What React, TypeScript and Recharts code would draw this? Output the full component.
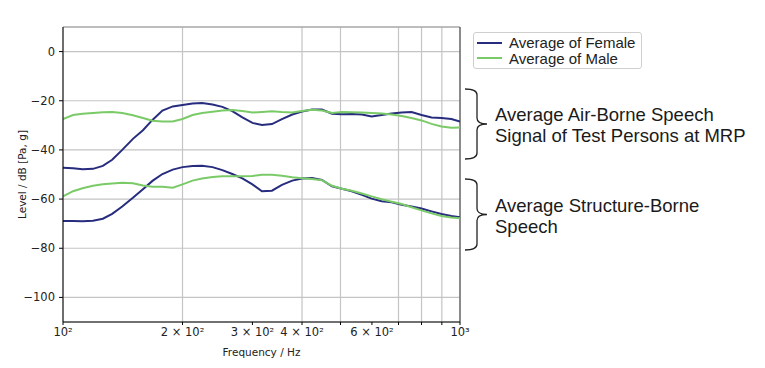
import {
  LineChart,
  Line,
  XAxis,
  YAxis,
  CartesianGrid,
  Legend,
  ReferenceLine,
} from 'recharts'

// frequency bins (Hz), roughly 1/12 octave
const FREQS = [
  100, 106, 112, 119, 126, 133, 141, 150, 159, 168, 178, 189, 200, 212, 224, 238, 252, 267, 283, 300, 317,
  336, 356, 378, 400, 424, 449, 476, 504, 534, 566, 599, 635, 673, 713, 755, 800, 848, 898, 951, 1000,
]

const FEMALE_AIR = [
  -47.3, -47.5, -47.9, -47.7, -46.5, -44, -40, -35.5, -32, -27.8, -24, -22.3, -21.7, -21.1, -20.9, -21.5,
  -22.5, -24.2, -26.8, -29, -29.9, -29.5, -27.5, -25.6, -24.4, -23.6, -23.6, -25.3, -25.5, -25.4, -25.6,
  -26.4, -25.8, -25.2, -24.8, -24.6, -25.8, -26.8, -27, -27.4, -28.5,
]

const MALE_AIR = [
  -27.5, -25.8, -25.3, -25, -24.7, -24.6, -25, -25.9, -27, -28.1, -28.4, -28.4, -27.4, -25.8, -25, -24.5,
  -24, -23.8, -24.2, -24.8, -24.6, -24.3, -24.6, -24.8, -24.2, -23.7, -24, -25, -24.6, -24.7, -24.8, -25,
  -25.2, -25.6, -26.2, -27, -28, -29.4, -30.5, -31, -30.9,
]

const FEMALE_STRUCT = [
  -68.9, -68.9, -69, -68.8, -68, -66, -63, -59.5, -56, -52.6, -49.8, -48, -47, -46.5, -46.4, -47, -48.2,
  -49.8, -51.6, -54, -56.8, -56.6, -54.2, -52.5, -51.6, -51.4, -52.2, -54.8, -55.8, -56.8, -58.3, -59.8,
  -60.9, -61.3, -62.3, -63, -63.8, -65, -66.1, -66.9, -67.4,
]

const MALE_STRUCT = [
  -58.9, -56.8, -55.6, -54.6, -54, -53.7, -53.4, -53.6, -54.5, -55, -55, -55.4, -54, -52.5, -51.6, -51,
  -50.7, -50.7, -50.7, -50.6, -50.1, -50.1, -50.5, -51.1, -51.5, -51.8, -52.3, -54.6, -55.8, -56.6, -57.7,
  -58.9, -60.1, -61.1, -62, -63.3, -64.6, -65.8, -66.9, -67.5, -67.8,
]

const X_TICKS = [100, 200, 300, 400, 500, 600, 700, 800, 900, 1000]
const X_LABELS: Record<number, string> = {
  100: '10²',
  200: '2 × 10²',
  300: '3 × 10²',
  400: '4 × 10²',
  600: '6 × 10²',
  1000: '10³',
}
const Y_TICKS = [0, -20, -40, -60, -80, -100]

const FEMALE = 'Average of Female'
const MALE = 'Average of Male'

const NAVY = '#272c7e'
const GREEN = '#7acb68'

const data = FREQS.map((f, i) => ({
  f,
  femaleAir: FEMALE_AIR[i],
  maleAir: MALE_AIR[i],
  femaleStruct: FEMALE_STRUCT[i],
  maleStruct: MALE_STRUCT[i],
}))

const axisFont = { fontFamily: '"DejaVu Sans", sans-serif', fontSize: 11.5, fill: '#222' }
const annoFont = '"Liberation Sans", Arial, sans-serif'

function renderLegend(props: any) {
  const items = (props.payload || []).filter((p: any) => p.value === FEMALE || p.value === MALE)
  return (
    <div
      style={{
        border: '1px solid #cfcfcf',
        borderRadius: 3,
        background: '#fff',
        padding: '2px 6px 2px 3px',
        fontFamily: annoFont,
        fontSize: 15,
        lineHeight: '15.6px',
        color: '#222',
      }}
    >
      {items.map((it: any) => (
        <div key={it.value} style={{ display: 'flex', alignItems: 'center' }}>
          <span style={{ width: 25, height: 0, borderTop: `2px solid ${it.color}`, marginRight: 7 }} />
          {it.value}
        </div>
      ))}
    </div>
  )
}

function Bracket({ top, bottom }: { top: number; bottom: number }) {
  const mid = (top + bottom) / 2
  const d = `M465,${top} Q477,${top} 477,${top + 6} L477,${mid - 6} Q477,${mid} 487,${mid} Q477,${mid} 477,${mid + 6} L477,${bottom - 6} Q477,${bottom} 465,${bottom}`
  return <path d={d} fill="none" stroke="#222" strokeWidth={1.3} />
}

export default function App() {
  return (
    <div style={{ position: 'absolute', left: 0, top: 0, width: 765, height: 368, background: '#fff' }}>
      <LineChart width={765} height={368} data={data} margin={{ top: 27, right: 305, bottom: 16, left: 8 }}>
        <CartesianGrid stroke="#c4c4c4" strokeWidth={1.2} />
        <XAxis
          dataKey="f"
          type="number"
          scale="log"
          domain={[100, 1000]}
          ticks={X_TICKS}
          allowDataOverflow
          height={30}
          stroke="#000"
          tickSize={3}
          tickMargin={3}
          tick={axisFont}
          tickFormatter={(v: number) => X_LABELS[v] || ''}
          label={{
            value: 'Frequency / Hz',
            position: 'insideBottom',
            offset: -4,
            style: { fontFamily: '"DejaVu Sans", sans-serif', fontSize: 10.5, fill: '#222' },
          }}
        />
        <YAxis
          type="number"
          domain={[-110, 10]}
          ticks={Y_TICKS}
          allowDataOverflow
          width={55}
          stroke="#000"
          tickSize={4}
          tickMargin={4}
          tick={axisFont}
          tickFormatter={(v: number) => (v < 0 ? `−${Math.abs(v)}` : `${v}`)}
          label={{
            value: 'Level / dB [Pa, g]',
            angle: -90,
            position: 'insideLeft',
            offset: 14,
            style: { textAnchor: 'middle', fontFamily: '"DejaVu Sans", sans-serif', fontSize: 10.5, fill: '#222' },
          }}
        />
        <ReferenceLine y={10} stroke="#9a9a9a" strokeWidth={1.2} />
        <ReferenceLine x={1000} stroke="#555" strokeWidth={1.2} />
        <Line dataKey="femaleAir" name={FEMALE} stroke={NAVY} strokeWidth={2} dot={false} isAnimationActive={false} />
        <Line dataKey="maleAir" name={MALE} stroke={GREEN} strokeWidth={2} dot={false} isAnimationActive={false} />
        <Line dataKey="femaleStruct" name="femaleStruct" legendType="none" stroke={NAVY} strokeWidth={2} dot={false} isAnimationActive={false} />
        <Line dataKey="maleStruct" name="maleStruct" legendType="none" stroke={GREEN} strokeWidth={2} dot={false} isAnimationActive={false} />
        <Legend
          layout="vertical"
          align="center"
          verticalAlign="middle"
          content={renderLegend}
          wrapperStyle={{ left: 473, top: 32, width: 'auto' }}
        />
      </LineChart>
      <svg width={765} height={368} style={{ position: 'absolute', left: 0, top: 0, pointerEvents: 'none' }}>
        <Bracket top={89} bottom={159} />
        <Bracket top={179} bottom={250} />
        <g fontFamily={annoFont} fontSize={18.5} fill="#1a1a1a">
          <text x={495} y={120.5}>Average Air-Borne Speech</text>
          <text x={495} y={141.5}>Signal of Test Persons at MRP</text>
          <text x={495} y={211.5}>Average Structure-Borne</text>
          <text x={495} y={233}>Speech</text>
        </g>
      </svg>
    </div>
  )
}
